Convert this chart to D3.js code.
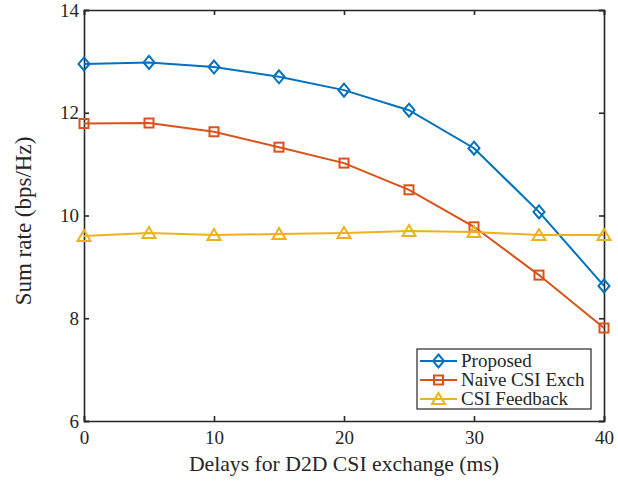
<!DOCTYPE html>
<html lang="en">
<head>
<meta charset="UTF-8">
<title>Sum rate vs delay</title>
<script src="https://d3js.org/d3.v7.min.js"></script>
<style>
    body {margin: 0; background: #fff;}
    text {font-family: "Liberation Serif", "Times New Roman", serif;}
</style>
</head>
<body>
<div id="chart"></div>
<script>
// data
var delays = [0, 5, 10, 15, 20, 25, 30, 35, 40];
var proposed = [12.95, 12.98, 12.89, 12.70, 12.44, 12.05, 11.31, 10.07, 8.63];
var naive = [11.79, 11.80, 11.63, 11.33, 11.02, 10.50, 9.78, 8.84, 7.81];
var feedback = [9.60, 9.66, 9.62, 9.64, 9.66, 9.70, 9.68, 9.62, 9.62];
var seriesNames = ["Proposed", "Naive CSI Exch", "CSI Feedback"];
var xTicks = [0, 10, 20, 30, 40];
var yTicks = [6, 8, 10, 12, 14];

var width = 618, height = 481;
var margin = {left: 84, right: 14, top: 10, bottom: 60};
var colors = ["#0072BD", "#D95319", "#EDB120"];
var shapes = ["diamond", "square", "triangle"];

var svg = d3.select("#chart").append("svg")
    .attr("width", width)
    .attr("height", height);

var xScale = d3.scaleLinear().domain([0, 40]).range([margin.left, width - margin.right]);
var yScale = d3.scaleLinear().domain([6, 14]).range([height - margin.bottom, margin.top]);

var x0 = xScale.range()[0], x1 = xScale.range()[1];
var y0 = yScale.range()[0], y1 = yScale.range()[1];

// axes, ticks pointing inward on all four sides
svg.append("g")
    .attr("transform", "translate(0," + y0 + ")")
    .call(d3.axisBottom(xScale).tickValues(xTicks).tickSize(-5).tickPadding(10));
svg.append("g")
    .attr("transform", "translate(0," + y1 + ")")
    .call(d3.axisTop(xScale).tickValues(xTicks).tickSize(-5).tickFormat(""));
svg.append("g")
    .attr("transform", "translate(" + x0 + ",0)")
    .call(d3.axisLeft(yScale).tickValues(yTicks).tickSize(-5).tickPadding(5));
svg.append("g")
    .attr("transform", "translate(" + x1 + ",0)")
    .call(d3.axisRight(yScale).tickValues(yTicks).tickSize(-5).tickFormat(""));

svg.selectAll(".domain").attr("stroke", "#262626").attr("stroke-width", 1.6);
svg.selectAll(".tick line").attr("stroke", "#262626").attr("stroke-width", 1.6);
svg.selectAll(".tick text")
    .attr("font-family", "Liberation Serif")
    .attr("font-size", "19px")
    .attr("fill", "#262626");

// axis labels
svg.append("text")
    .attr("x", (x0 + x1) / 2)
    .attr("y", 471)
    .attr("text-anchor", "middle")
    .attr("font-size", "21.7px")
    .attr("fill", "#262626")
    .text("Delays for D2D CSI exchange (ms)");

svg.append("text")
    .attr("transform", "translate(31,221) rotate(-90)")
    .attr("text-anchor", "middle")
    .attr("font-size", "23px")
    .attr("fill", "#262626")
    .text("Sum rate (bps/Hz)");

// marker drawer
function marker(g, shape, color, cx, cy) {
    if (shape === "diamond") {
        g.append("path")
            .attr("d", "M" + cx + "," + (cy - 6.5) + "L" + (cx + 5.5) + "," + cy + "L" + cx + "," + (cy + 6.5) + "L" + (cx - 5.5) + "," + cy + "Z")
            .attr("fill", "none").attr("stroke", color).attr("stroke-width", 2);
    } else if (shape === "square") {
        g.append("rect")
            .attr("x", cx - 4.5).attr("y", cy - 4.5)
            .attr("width", 9).attr("height", 9)
            .attr("fill", "none").attr("stroke", color).attr("stroke-width", 2);
    } else {
        g.append("path")
            .attr("d", "M" + cx + "," + (cy - 6) + "L" + (cx + 6.5) + "," + (cy + 5) + "L" + (cx - 6.5) + "," + (cy + 5) + "Z")
            .attr("fill", "none").attr("stroke", color).attr("stroke-width", 2);
    }
}

var allSeries = [proposed, naive, feedback];
var line = d3.line()
    .x(function(d, i) { return xScale(delays[i]); })
    .y(function(d) { return yScale(d); });

allSeries.forEach(function(vals, k) {
    var g = svg.append("g");
    g.append("path")
        .datum(vals)
        .attr("d", line)
        .attr("fill", "none")
        .attr("stroke", colors[k])
        .attr("stroke-width", 2);
    vals.forEach(function(v, i) {
        marker(g, shapes[k], colors[k], xScale(delays[i]), yScale(v));
    });
});

// legend
var lg = svg.append("g");
lg.append("rect")
    .attr("x", 417).attr("y", 349)
    .attr("width", 174).attr("height", 60)
    .attr("fill", "#fff").attr("stroke", "#262626").attr("stroke-width", 1.2);
seriesNames.forEach(function(name, k) {
    var ly = 361 + k * 19;
    lg.append("line")
        .attr("x1", 420).attr("x2", 457)
        .attr("y1", ly).attr("y2", ly)
        .attr("stroke", colors[k]).attr("stroke-width", 2);
    marker(lg, shapes[k], colors[k], 438.5, ly);
    lg.append("text")
        .attr("x", 461).attr("y", ly + 6)
        .attr("font-size", "19px")
        .attr("fill", "#262626")
        .text(name);
});
</script>
</body>
</html>
